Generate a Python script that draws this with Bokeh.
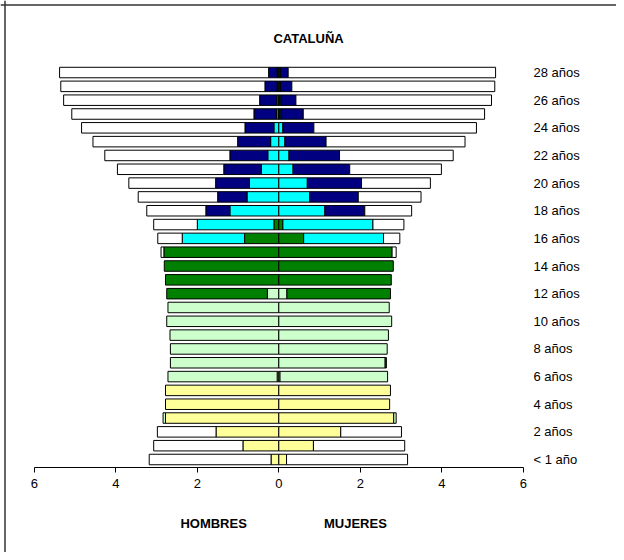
from bokeh.plotting import figure
from bokeh.models import (ColumnDataSource, Range1d, LinearAxis, FixedTicker,
                          Label, Span)
from bokeh.embed import file_html
from bokeh.resources import INLINE

# ---------------- data (percent of population, by single year of age) -------------
ages = list(range(29))

male_infantil   = [0.19, 0.88, 1.54, 2.78, 2.78, 2.78, 0.04, 0, 0, 0, 0, 0, 0, 0, 0,
                   0, 0, 0, 0, 0, 0, 0, 0, 0, 0, 0, 0, 0, 0]
male_primaria   = [0, 0, 0, 0.06, 0, 0, 2.68, 2.66, 2.66, 2.67, 2.75, 2.72, 0.28, 0, 0,
                   0, 0, 0, 0, 0, 0, 0, 0, 0, 0, 0, 0, 0, 0]
male_secundaria = [0, 0, 0, 0, 0, 0, 0, 0, 0, 0, 0, 0, 2.47, 2.78, 2.81,
                   2.82, 0.84, 0.12, 0, 0, 0, 0, 0, 0, 0, 0.02, 0.02, 0.03, 0.03]
male_postoblig  = [0, 0, 0, 0, 0, 0, 0, 0, 0, 0, 0, 0, 0, 0, 0,
                   0, 1.53, 1.88, 1.20, 0.78, 0.72, 0.43, 0.27, 0.20, 0.12, 0.04, 0.03, 0.01, 0.01]
male_superior   = [0, 0, 0, 0, 0, 0, 0, 0, 0, 0, 0, 0, 0, 0, 0,
                   0, 0, 0, 0.59, 0.72, 0.83, 0.92, 0.93, 0.81, 0.71, 0.55, 0.42, 0.30, 0.21]
male_noescol    = [2.99, 2.19, 1.44, 0, 0, 0, 0, 0, 0, 0, 0, 0, 0, 0, 0,
                   0.07, 0.60, 1.07, 1.45, 1.95, 2.13, 2.61, 3.07, 3.55, 4.01, 4.47, 4.81, 5.01, 5.13]

female_infantil   = [0.19, 0.85, 1.52, 2.82, 2.72, 2.74, 0.03, 0, 0, 0, 0, 0, 0, 0, 0,
                     0, 0, 0, 0, 0, 0, 0, 0, 0, 0, 0, 0, 0, 0]
female_primaria   = [0, 0, 0, 0.06, 0, 0, 2.64, 2.61, 2.66, 2.69, 2.77, 2.71, 0.20, 0, 0,
                     0, 0, 0, 0, 0, 0, 0, 0, 0, 0, 0, 0, 0, 0]
female_secundaria = [0, 0, 0, 0, 0, 0, 0, 0.03, 0, 0, 0, 0, 2.54, 2.76, 2.81,
                     2.78, 0.61, 0.10, 0, 0, 0, 0, 0, 0, 0, 0.02, 0.02, 0.03, 0.03]
female_postoblig  = [0, 0, 0, 0, 0, 0, 0, 0, 0, 0, 0, 0, 0, 0, 0,
                     0, 1.96, 2.21, 1.13, 0.76, 0.70, 0.35, 0.25, 0.15, 0.10, 0.03, 0.03, 0.01, 0.01]
female_superior   = [0, 0, 0, 0, 0, 0, 0, 0, 0, 0, 0, 0, 0, 0, 0,
                     0, 0, 0, 0.98, 1.19, 1.33, 1.39, 1.24, 1.01, 0.76, 0.55, 0.37, 0.28, 0.19]
female_noescol    = [2.97, 2.24, 1.49, 0, 0, 0, 0, 0, 0, 0, 0, 0, 0, 0, 0,
                     0.10, 0.40, 0.76, 1.15, 1.54, 1.69, 2.25, 2.79, 3.41, 3.99, 4.45, 4.80, 4.98, 5.09]

segment_colors = ["#FFFF99", "#CCFFCC", "#008000", "#00FFFF", "#000080", "#FFFFFF"]

x_ticks = [-6, -4, -2, 0, 2, 4, 6]
x_tick_labels = ["6", "4", "2", "0", "2", "4", "6"]
y_ticks = [0, 2, 4, 6, 8, 10, 12, 14, 16, 18, 20, 22, 24, 26, 28]
y_tick_labels = ["< 1 año", "2 años", "4 años", "6 años", "8 años", "10 años", "12 años",
                 "14 años", "16 años", "18 años", "20 años", "22 años", "24 años",
                 "26 años", "28 años"]

title_text = "CATALUÑA"
male_label = "HOMBRES"
female_label = "MUJERES"

FONT = "Liberation Sans"

X0, Y0 = -278.3 / 40.75, 459 / 13.82  # data value at the canvas top-left corner

# ---------------- figure -------------
p = figure(width=616, height=552, output_backend="svg", toolbar_location=None,
           x_axis_location=None, y_axis_location=None,
           x_range=Range1d(X0, X0 + 616 / 40.75), y_range=Range1d(Y0 - 552 / 13.82, Y0),
           min_border=0, background_fill_color="white", border_fill_color="white")
p.outline_line_color = None
for g in p.grid:
    g.visible = False

male_series = [male_infantil, male_primaria, male_secundaria, male_postoblig,
               male_superior, male_noescol]
female_series = [female_infantil, female_primaria, female_secundaria, female_postoblig,
                 female_superior, female_noescol]

for series, sign in ((male_series, -1), (female_series, 1)):
    cum = [0.0] * len(ages)
    for vals, color in zip(series, segment_colors):
        ys, lefts, rights = [], [], []
        for i, v in enumerate(vals):
            if v > 0:
                a = sign * cum[i]
                b = sign * (cum[i] + v)
                ys.append(ages[i])
                lefts.append(min(a, b))
                rights.append(max(a, b))
            cum[i] += v
        src = ColumnDataSource(dict(y=ys, left=lefts, right=rights))
        p.hbar(y="y", left="left", right="right", height=0.76, source=src,
               fill_color=color, line_color="black", line_width=1)

# x axis inside the frame
xaxis = LinearAxis(fixed_location=-0.58, bounds=(-6, 6),
                   ticker=FixedTicker(ticks=x_ticks))
xaxis.major_label_overrides = {t: l for t, l in zip(x_ticks, x_tick_labels)}
xaxis.axis_line_color = "black"
xaxis.major_tick_line_color = "black"
xaxis.major_tick_in = 0
xaxis.major_tick_out = 5
xaxis.minor_tick_line_color = None
xaxis.major_label_standoff = 6
xaxis.major_label_text_font = FONT
xaxis.major_label_text_font_size = "13px"
xaxis.major_label_text_color = "black"
p.add_layout(xaxis, "below")

# age labels at the right
yaxis = LinearAxis(fixed_location=6.25, ticker=FixedTicker(ticks=y_ticks))
yaxis.major_label_overrides = {t: l for t, l in zip(y_ticks, y_tick_labels)}
yaxis.axis_line_color = None
yaxis.major_tick_line_color = None
yaxis.minor_tick_line_color = None
yaxis.major_tick_in = 0
yaxis.major_tick_out = 0
yaxis.major_label_standoff = 0
yaxis.major_label_text_font = FONT
yaxis.major_label_text_font_size = "13px"
yaxis.major_label_text_color = "black"
p.add_layout(yaxis, "right")

# texts
for txt, x, y in ((title_text, 0.73, 30.46), (male_label, -1.60, -4.63),
                  (female_label, 1.88, -4.63)):
    p.add_layout(Label(x=x, y=y, text=txt, text_font=FONT, text_font_size="13px",
                       text_font_style="bold", text_align="center",
                       text_baseline="middle", text_color="black"))

# frame border (left and top), at pixel 4 of the chart
p.add_layout(Span(location=X0 + 4.5 / 40.75, dimension="height",
                  line_color="#333333", line_width=1.5))
p.add_layout(Span(location=Y0 - 4.5 / 13.82, dimension="width",
                  line_color="#333333", line_width=1.5))

open("out.html", "w").write(file_html(p, INLINE))
